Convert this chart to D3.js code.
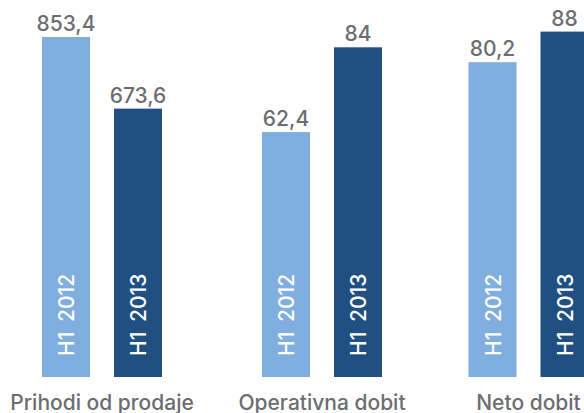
<!DOCTYPE html>
<html>
<head>
<meta charset="utf-8">
<script src="https://cdn.jsdelivr.net/npm/d3@7"></script>
<style>
  body { margin: 0; background: #fff; }
  svg { display: block; font-family: Inter, "Liberation Sans", Arial, sans-serif; font-weight: 500; }
</style>
</head>
<body>
<div class="container"></div>
<script>
const width = 584;
const height = 413;
const baseY = 377;

// data
const categories = ["Prihodi od prodaje", "Operativna dobit", "Neto dobit"];
const series = ["H1 2012", "H1 2013"];
const values2012 = [853.4, 62.4, 80.2];
const values2013 = [673.6, 84, 88];
const colors = ["#80aedf", "#1f5081"];

const dataset = categories.map((c, i) => ({
    category: c,
    values: [
        { key: series[0], value: values2012[i] },
        { key: series[1], value: values2013[i] }
    ]
}));

const fmt = (v) => String(v).replace(".", ",");

// group centres (groups are not evenly spaced in the original)
const xGroup = d3.scaleOrdinal()
    .domain(categories)
    .range([102, 322, 528.5]);

const xInner = d3.scaleBand()
    .domain(series)
    .range([-60, 60])
    .paddingInner(1 / 3);

// sales and profit are drawn on their own scales
const ySales = d3.scaleLinear()
    .domain([0, 853.4])
    .range([baseY, 37]);

const yProfit = d3.scaleLinear()
    .domain([0, 88])
    .range([baseY, 31.6]);

const yFor = (cat) => cat === categories[0] ? ySales : yProfit;

const svg = d3.select(".container")
    .append("svg")
    .attr("width", width)
    .attr("height", height);

const groups = svg.selectAll("g.group")
    .data(dataset)
    .join("g")
    .attr("class", "group")
    .attr("transform", d => `translate(${xGroup(d.category)}, 0)`);

groups.each(function (g) {
    const y = yFor(g.category);
    const sel = d3.select(this);

    sel.selectAll("rect")
        .data(g.values)
        .join("rect")
        .attr("x", d => xInner(d.key))
        .attr("y", d => y(d.value))
        .attr("width", xInner.bandwidth())
        .attr("height", d => y(0) - y(d.value))
        .attr("fill", (d, i) => colors[i]);

    sel.selectAll("text.value")
        .data(g.values)
        .join("text")
        .attr("class", "value")
        .attr("x", d => xInner(d.key) + xInner.bandwidth() / 2)
        .attr("y", d => y(d.value) - 6)
        .attr("text-anchor", "middle")
        .attr("font-size", "21px")
        .attr("fill", "#6c6d70")
        .text(d => fmt(d.value));

    sel.selectAll("text.series")
        .data(g.values)
        .join("text")
        .attr("class", "series")
        .attr("transform", d => `translate(${xInner(d.key) + xInner.bandwidth() / 2 + 8}, ${baseY - 21}) rotate(-90)`)
        .attr("font-size", "21px")
        .attr("word-spacing", "4px")
        .attr("fill", "#ffffff")
        .text(d => d.key);

    sel.append("text")
        .attr("class", "category")
        .attr("x", 0)
        .attr("y", 410)
        .attr("text-anchor", "middle")
        .attr("font-size", "21px")
        .attr("fill", "#6c6d70")
        .text(g.category);
});
</script>
</body>
</html>
